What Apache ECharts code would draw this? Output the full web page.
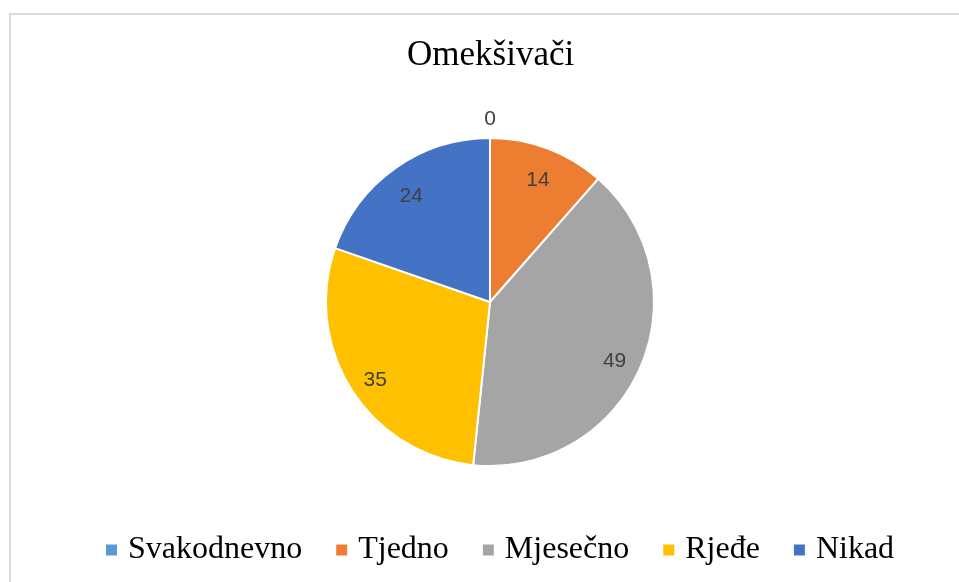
<!DOCTYPE html>
<html>
<head>
<meta charset="utf-8">
<script src="https://cdn.jsdelivr.net/npm/echarts@6/dist/echarts.min.js"></script>
<style>
  html, body { margin: 0; padding: 0; background: #fff; }
  #chart { width: 959px; height: 582px; }
</style>
</head>
<body>
<div id="chart"></div>
<script>
const categories = ['Svakodnevno', 'Tjedno', 'Mjesečno', 'Rjeđe', 'Nikad'];
const values = [0, 14, 49, 35, 24];
const colors = ['#5B9BD5', '#ED7D31', '#A5A5A5', '#FFC000', '#4472C4'];

const chart = echarts.init(document.getElementById('chart'));

const pieData = categories.map((name, i) => ({ name, value: values[i] }));
const center = [490, 302];

// transparent copies of the pie, only used to push labels outwards
const labelLayer = (radius, showZero, offset) => ({
  type: 'pie',
  silent: true,
  center: center,
  radius: [0, radius],
  startAngle: 90,
  clockwise: true,
  itemStyle: { color: 'transparent', borderWidth: 0 },
  labelLine: { show: false },
  emphasis: { disabled: true },
  data: pieData.map(d => ({
    name: d.name,
    value: d.value,
    label: { show: showZero ? d.value === 0 : d.value !== 0 }
  })),
  label: {
    position: 'inside',
    formatter: '{c}',
    color: '#404040',
    fontSize: 21,
    fontFamily: 'Liberation Sans',
    offset: offset
  }
});

chart.setOption({
  backgroundColor: '#fff',
  color: colors,
  title: {
    text: 'Omekšivači',
    left: 407,
    top: 38,
    padding: 0,
    textStyle: {
      fontFamily: 'Liberation Serif',
      fontWeight: 'normal',
      fontSize: 35,
      color: '#000'
    }
  },
  legend: {
    data: categories,
    bottom: 11,
    left: 99,
    icon: 'rect',
    itemWidth: 13,
    itemHeight: 13,
    itemGap: 32,
    textStyle: {
      fontFamily: 'Liberation Serif',
      fontSize: 32,
      color: '#000',
      padding: [0, 0, 0, 5]
    }
  },
  graphic: [{
    type: 'rect',
    shape: { x: 10, y: 14, width: 1200, height: 900 },
    style: { fill: 'none', stroke: '#d9d9d9', lineWidth: 2 },
    silent: true
  }],
  series: [
    {
      type: 'pie',
      center: center,
      radius: [0, 164],
      startAngle: 90,
      clockwise: true,
      label: { show: false },
      labelLine: { show: false },
      itemStyle: { borderColor: '#fff', borderWidth: 2 },
      emphasis: { scale: false },
      data: pieData
    },
    labelLayer(266, false, [0, 5]),
    labelLayer(360, true, [0, 0])
  ]
});
</script>
</body>
</html>
